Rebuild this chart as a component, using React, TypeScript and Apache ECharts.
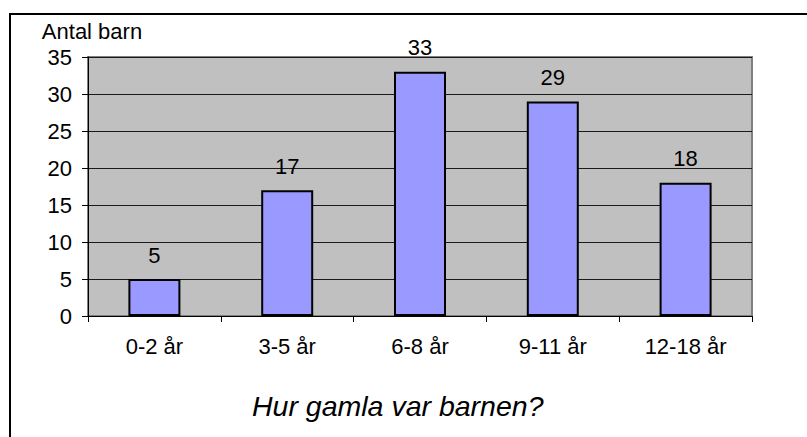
import React, { useEffect, useRef } from "react";
import * as echarts from "echarts";

const categories = ["0-2 år", "3-5 år", "6-8 år", "9-11 år", "12-18 år"];
const values = [5, 17, 33, 29, 18];
const yAxisName = "Antal barn";
const chartTitle = "Hur gamla var barnen?";

const FONT = "Liberation Sans, Arial, sans-serif";

export default function App() {
  const ref = useRef<HTMLDivElement>(null);
  useEffect(() => {
    if (!ref.current) return;
    const chart = echarts.init(ref.current, null, { renderer: "svg" });
    chart.setOption({
      animation: false,
      backgroundColor: "#ffffff",
      title: {
        text: chartTitle,
        left: 252,
        top: 391,
        padding: 0,
        textStyle: {
          fontFamily: FONT,
          fontSize: 28.5,
          fontStyle: "italic",
          fontWeight: "normal",
          color: "#000",
        },
      },
      graphic: [
        {
          type: "rect",
          shape: { x: 10, y: 14, width: 820, height: 440 },
          style: { fill: "none", stroke: "#000", lineWidth: 2 },
          silent: true,
          z: -1,
        },
      ],
      grid: {
        left: 88,
        top: 57,
        right: 55,
        bottom: 121,
        show: true,
        backgroundColor: "#C0C0C0",
        borderColor: "#808080",
        borderWidth: 2,
      },
      xAxis: {
        type: "category",
        data: categories,
        axisLine: { show: true, lineStyle: { color: "#000", width: 1 } },
        axisTick: {
          show: true,
          alignWithLabel: false,
          length: 6,
          lineStyle: { color: "#000" },
        },
        axisLabel: {
          margin: 19,
          fontFamily: FONT,
          fontSize: 22,
          color: "#000",
        },
        splitLine: { show: false },
      },
      yAxis: {
        type: "value",
        min: 0,
        max: 35,
        interval: 5,
        name: yAxisName,
        nameLocation: "end",
        nameGap: 26,
        nameTextStyle: {
          fontFamily: FONT,
          fontSize: 22,
          color: "#000",
          align: "center",
          verticalAlign: "middle",
          padding: [0, 0, 0, 8],
        },
        axisLine: { show: true, lineStyle: { color: "#000", width: 1 } },
        axisTick: { show: true, length: 6, lineStyle: { color: "#000" } },
        axisLabel: {
          margin: 16,
          fontFamily: FONT,
          fontSize: 22,
          color: "#000",
        },
        splitLine: { show: true, lineStyle: { color: "#1a1a1a", width: 1 } },
      },
      series: [
        {
          type: "bar",
          data: values,
          barWidth: 52,
          itemStyle: {
            color: "#9999FF",
            borderColor: "#000",
            borderWidth: 2,
          },
          label: {
            show: true,
            position: "top",
            distance: 13,
            fontFamily: FONT,
            fontSize: 22,
            color: "#000",
          },
        },
      ],
    });
    return () => chart.dispose();
  }, []);
  return (
    <div
      ref={ref}
      style={{ position: "fixed", left: 0, top: 0, width: 807, height: 437 }}
    />
  );
}
